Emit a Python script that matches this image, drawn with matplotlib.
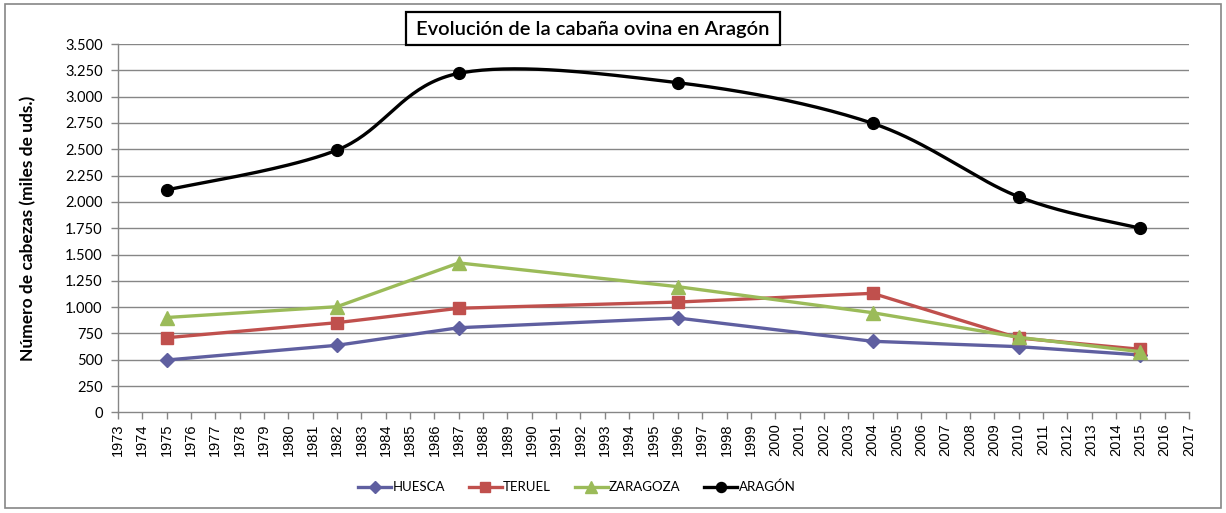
import numpy as np
import matplotlib
matplotlib.use("Agg")
import matplotlib.pyplot as plt
from matplotlib.lines import Line2D
from matplotlib.patches import Rectangle

# ---- data ----
years = [1975, 1982, 1987, 1996, 2004, 2010, 2015]
huesca = [497, 637, 804, 896, 675, 624, 545]
teruel = [709, 852, 989, 1048, 1131, 706, 599]
zaragoza = [901, 1004, 1420, 1194, 947, 713, 576]
aragon = [2113, 2493, 3222, 3133, 2747, 2049, 1749]
series_names = ["HUESCA", "TERUEL", "ZARAGOZA", "ARAGÓN"]
x_ticks = list(range(1973, 2018))
y_ticks = list(range(0, 3501, 250))
title = "Evolución de la cabaña ovina en Aragón"
ylabel = "Número de cabezas (miles de uds.)"

colors = ["#5F5FA0", "#C0504D", "#9BBB59", "#000000"]
markers = ["D", "s", "^", "o"]
msizes = [7.5, 8, 10.5, 8.5]
smoothed = [False, False, False, True]

plt.rcParams['font.family'] = ['Lato', 'DejaVu Sans']


def smooth(xs, ys, n=40):
    xs = np.asarray(xs, float)
    ys = np.asarray(ys, float)
    P = np.column_stack([xs, ys])
    Pe = np.vstack([P[0], P, P[-1]])
    out = [P[0]]
    t = np.linspace(0, 1, n)[1:]
    for i in range(len(P) - 1):
        p0 = Pe[i + 1]
        p3 = Pe[i + 2]
        c1 = p0 + (Pe[i + 2] - Pe[i]) / 6.0
        c2 = p3 - (Pe[i + 3] - Pe[i + 1]) / 6.0
        for tt in t:
            b = ((1 - tt) ** 3) * p0 + 3 * ((1 - tt) ** 2) * tt * c1 + 3 * (1 - tt) * tt ** 2 * c2 + tt ** 3 * p3
            out.append(b)
    out = np.array(out)
    return out[:, 0], out[:, 1]


fig = plt.figure(figsize=(12.26, 5.13), dpi=100)
ax = fig.add_axes([118 / 1226, 1 - 412.3 / 513, (1189 - 118) / 1226, (412.3 - 44.1) / 513])

grid_c = "#868686"
for yv in y_ticks[1:]:
    ax.axhline(yv, color=grid_c, lw=1.0, zorder=0)

data = [huesca, teruel, zaragoza, aragon]
for i, (vals, c, m, ms, sm) in enumerate(zip(data, colors, markers, msizes, smoothed)):
    if sm:
        sx, sy = smooth(years, vals)
    else:
        sx, sy = years, vals
    ax.plot(sx, sy, color=c, lw=2.4, zorder=2 + i, solid_joinstyle='round')
    ax.plot(years, vals, linestyle='none', marker=m, color=c, markersize=ms,
            markeredgecolor=c, zorder=2 + i)

ax.set_xlim(1973, 2017)
ax.set_ylim(0, 3500)
ax.set_xticks(x_ticks)
ax.set_xticklabels([str(x) for x in x_ticks], rotation=90, fontsize=10.5,
                   fontfamily=['Liberation Sans', 'DejaVu Sans'])
ax.set_yticks(y_ticks)
ax.set_yticklabels([f"{v:,}".replace(",", ".") for v in y_ticks], fontsize=10.5)
ax.tick_params(axis='both', colors=grid_c, length=5, width=1, labelcolor='black')
ax.tick_params(axis='y', pad=6)
ax.tick_params(axis='x', pad=3)
for s in ['top', 'right']:
    ax.spines[s].set_visible(False)
for s in ['left', 'bottom']:
    ax.spines[s].set_color(grid_c)
    ax.spines[s].set_linewidth(1)

ax.set_ylabel(ylabel, fontsize=12.5, fontweight='bold', labelpad=21)

fig.patches.append(Rectangle((406 / 1226, 1 - 45 / 513), 374 / 1226, 33 / 513,
                             transform=fig.transFigure, facecolor='white',
                             edgecolor='black', lw=1.6, zorder=9))
fig.text(593 / 1226, 1 - 29 / 513, title, ha='center', va='center', fontsize=14.5,
         fontweight='semibold', zorder=10)

handles = [Line2D([0], [0], color=c, lw=2.4, marker=m, markersize=ms * 0.85, markeredgecolor=c)
           for c, m, ms in zip(colors, markers, msizes)]
fig.legend(handles, series_names, loc='center', bbox_to_anchor=(577 / 1226, 1 - 487 / 513),
           ncol=4, frameon=False, handlelength=2.5, handletextpad=0.1,
           columnspacing=1.8, fontsize=9.5)

fig.patches.append(Rectangle((5 / 1226, 1 - 508 / 513), 1216 / 1226, 504 / 513,
                             transform=fig.transFigure, fill=False, edgecolor='#868686', lw=1.2))

fig.savefig("out.png", dpi=100)
